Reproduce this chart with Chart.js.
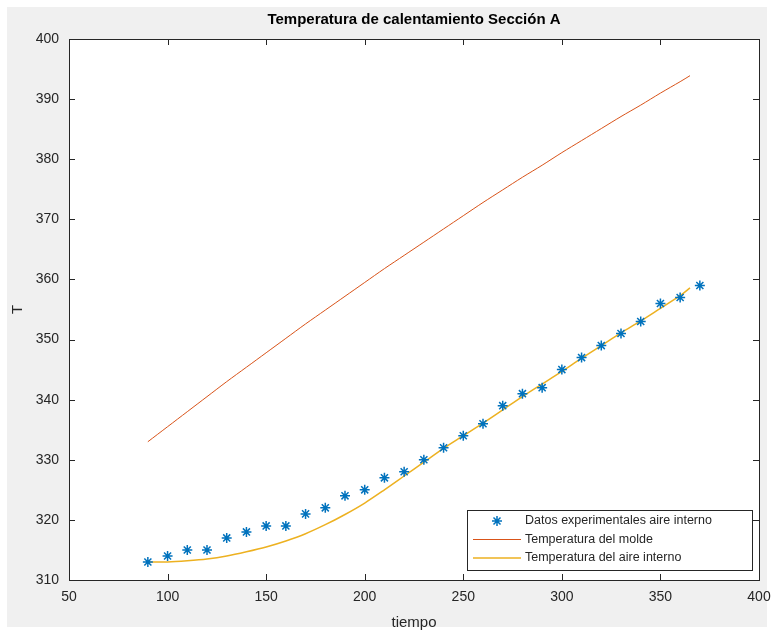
<!DOCTYPE html>
<html>
<head>
<meta charset="utf-8">
<script src="https://cdn.jsdelivr.net/npm/chart.js@4.4.1/dist/chart.umd.min.js"></script>
<style>
  html, body { margin: 0; padding: 0; background: #ffffff; }
  #tempChart { display: block; }
</style>
</head>
<body>
<canvas id="tempChart" width="774" height="634"></canvas>
<script>
// Datos experimentales (asteriscos)
const tiempoDatos = [90, 100, 110, 120, 130, 140, 150, 160, 170, 180, 190, 200, 210, 220, 230,
    240, 250, 260, 270, 280, 290, 300, 310, 320, 330, 340, 350, 360, 370];
const aireDatos = [313, 314, 315, 315, 317, 318, 319, 319, 321, 322, 324, 325, 327, 328, 330,
    332, 334, 336, 339, 341, 342, 345, 347, 349, 351, 353, 356, 357, 359];

// Curvas del modelo
const tiempoModelo = [90, 100, 110, 120, 130, 140, 150, 160, 170, 180, 190, 200, 210, 220, 230,
    240, 250, 260, 270, 280, 290, 300, 310, 320, 330, 340, 350, 360, 365];
const tempMolde = [333.0, 335.5, 338.0, 340.5, 343.0, 345.4, 347.8, 350.2, 352.6, 354.9, 357.2,
    359.5, 361.8, 364.0, 366.2, 368.4, 370.6, 372.8, 374.9, 377.0, 379.0, 381.1, 383.1, 385.1,
    387.1, 389.0, 391.0, 392.9, 393.9];
const tempAire = [313.0, 313.0, 313.2, 313.5, 314.0, 314.7, 315.5, 316.5, 317.7, 319.2, 320.9,
    322.8, 325.0, 327.3, 329.6, 331.9, 334.0, 336.1, 338.3, 340.5, 342.6, 344.7, 346.9, 349.0,
    351.1, 353.1, 355.2, 357.3, 358.6];

// Ejes
const xTicks = [50, 100, 150, 200, 250, 300, 350, 400];
const yTicks = [310, 320, 330, 340, 350, 360, 370, 380, 390, 400];

const titulo = 'Temperatura de calentamiento Sección A';
const tituloX = 'tiempo';
const tituloY = 'T';

const axisColor = '#262626';

function toPoints(xs, ys) {
    return xs.map((x, i) => ({ x: x, y: ys[i] }));
}

// Fondo gris, area blanca, caja con ticks hacia adentro, titulos y leyenda
const matlabStyle = {
    id: 'matlabStyle',
    beforeDraw(chart) {
        const { ctx, chartArea: a } = chart;
        ctx.save();
        ctx.fillStyle = '#ffffff';
        ctx.fillRect(0, 0, chart.width, chart.height);
        ctx.fillStyle = '#f0f0f0';
        ctx.fillRect(7, 7, chart.width - 14, chart.height - 14);
        ctx.fillStyle = '#ffffff';
        ctx.fillRect(a.left, a.top, a.right - a.left, a.bottom - a.top);
        ctx.restore();
    },
    afterDraw(chart) {
        const { ctx, chartArea: a } = chart;
        const xs = chart.scales.x, ys = chart.scales.y;
        ctx.save();
        ctx.strokeStyle = axisColor;
        ctx.lineWidth = 1;
        ctx.strokeRect(Math.round(a.left) + 0.5, Math.round(a.top) + 0.5,
            Math.round(a.right - a.left), Math.round(a.bottom - a.top));

        // ticks hacia adentro
        ctx.beginPath();
        xTicks.forEach(v => {
            const px = Math.round(xs.getPixelForValue(v)) + 0.5;
            ctx.moveTo(px, a.bottom); ctx.lineTo(px, a.bottom - 6);
            ctx.moveTo(px, a.top); ctx.lineTo(px, a.top + 6);
        });
        yTicks.forEach(v => {
            const py = Math.round(ys.getPixelForValue(v)) + 0.5;
            ctx.moveTo(a.left, py); ctx.lineTo(a.left + 6, py);
            ctx.moveTo(a.right, py); ctx.lineTo(a.right - 6, py);
        });
        ctx.stroke();

        // titulo
        ctx.fillStyle = '#000000';
        ctx.font = 'bold 15px "Liberation Sans", Arial, sans-serif';
        ctx.textAlign = 'center';
        ctx.textBaseline = 'middle';
        ctx.fillText(titulo, (a.left + a.right) / 2, 20);

        // titulos de ejes
        ctx.fillStyle = axisColor;
        ctx.font = '15px "Liberation Sans", Arial, sans-serif';
        ctx.fillText(tituloX, (a.left + a.right) / 2, 623);
        ctx.save();
        ctx.translate(18, (a.top + a.bottom) / 2);
        ctx.rotate(-Math.PI / 2);
        ctx.fillText(tituloY, 0, 0);
        ctx.restore();

        // leyenda
        const lx = 467, ly = 510, lw = 285, lh = 60;
        ctx.fillStyle = '#ffffff';
        ctx.fillRect(lx, ly, lw, lh);
        ctx.strokeStyle = axisColor;
        ctx.strokeRect(lx + 0.5, ly + 0.5, lw, lh);
        ctx.font = '12.5px "Liberation Sans", Arial, sans-serif';
        ctx.textAlign = 'left';
        chart.data.datasets.forEach((ds, i) => {
            const cy = ly + 11 + i * 18.5;
            if (ds.showLine) {
                ctx.strokeStyle = ds.borderColor;
                ctx.lineWidth = ds.borderWidth;
                ctx.beginPath();
                ctx.moveTo(lx + 6, cy); ctx.lineTo(lx + 54, cy);
                ctx.stroke();
            } else {
                ctx.strokeStyle = ds.pointBorderColor;
                ctx.lineWidth = ds.pointBorderWidth;
                const r = ds.pointRadius, cx = lx + 30;
                ctx.beginPath();
                ctx.moveTo(cx - r, cy); ctx.lineTo(cx + r, cy);
                ctx.moveTo(cx, cy - r); ctx.lineTo(cx, cy + r);
                const d = r * 0.7;
                ctx.moveTo(cx - d, cy - d); ctx.lineTo(cx + d, cy + d);
                ctx.moveTo(cx - d, cy + d); ctx.lineTo(cx + d, cy - d);
                ctx.stroke();
            }
            ctx.fillStyle = axisColor;
            ctx.fillText(ds.label, lx + 58, cy);
        });
        ctx.restore();
    }
};

new Chart(document.getElementById('tempChart'), {
    type: 'scatter',
    data: {
        datasets: [
            {
                label: 'Datos experimentales aire interno',
                data: toPoints(tiempoDatos, aireDatos),
                showLine: false,
                pointStyle: 'star',
                pointRadius: 5,
                pointBorderColor: '#0072BD',
                pointBackgroundColor: '#0072BD',
                pointBorderWidth: 1.5,
                order: 0
            },
            {
                label: 'Temperatura del molde',
                data: toPoints(tiempoModelo, tempMolde),
                showLine: true,
                borderColor: '#D95319',
                borderWidth: 1,
                pointRadius: 0,
                tension: 0.3,
                order: 2
            },
            {
                label: 'Temperatura del aire interno',
                data: toPoints(tiempoModelo, tempAire),
                showLine: true,
                borderColor: '#EDB120',
                borderWidth: 1.5,
                pointRadius: 0,
                tension: 0.3,
                order: 1
            }
        ]
    },
    options: {
        responsive: false,
        animation: false,
        layout: { padding: { left: 0, top: 39, right: 15, bottom: 0 } },
        plugins: {
            legend: { display: false },
            title: { display: false },
            tooltip: { enabled: false }
        },
        scales: {
            x: {
                type: 'linear',
                min: 50,
                max: 400,
                grid: { display: false, drawTicks: false },
                border: { display: false },
                afterFit: s => { s.height = 54; s.paddingLeft = 0; s.paddingRight = 0; },
                afterBuildTicks: s => { s.ticks = xTicks.map(v => ({ value: v })); },
                ticks: {
                    color: axisColor,
                    padding: 9,
                    maxRotation: 0,
                    font: { family: '"Liberation Sans", Arial, sans-serif', size: 14 }
                }
            },
            y: {
                type: 'linear',
                min: 310,
                max: 400,
                grid: { display: false, drawTicks: false },
                border: { display: false },
                afterFit: s => { s.width = 69; s.paddingTop = 0; s.paddingBottom = 0; },
                afterBuildTicks: s => { s.ticks = yTicks.map(v => ({ value: v })); },
                ticks: {
                    color: axisColor,
                    padding: 10,
                    font: { family: '"Liberation Sans", Arial, sans-serif', size: 14 }
                }
            }
        }
    },
    plugins: [matlabStyle]
});
</script>
</body>
</html>
